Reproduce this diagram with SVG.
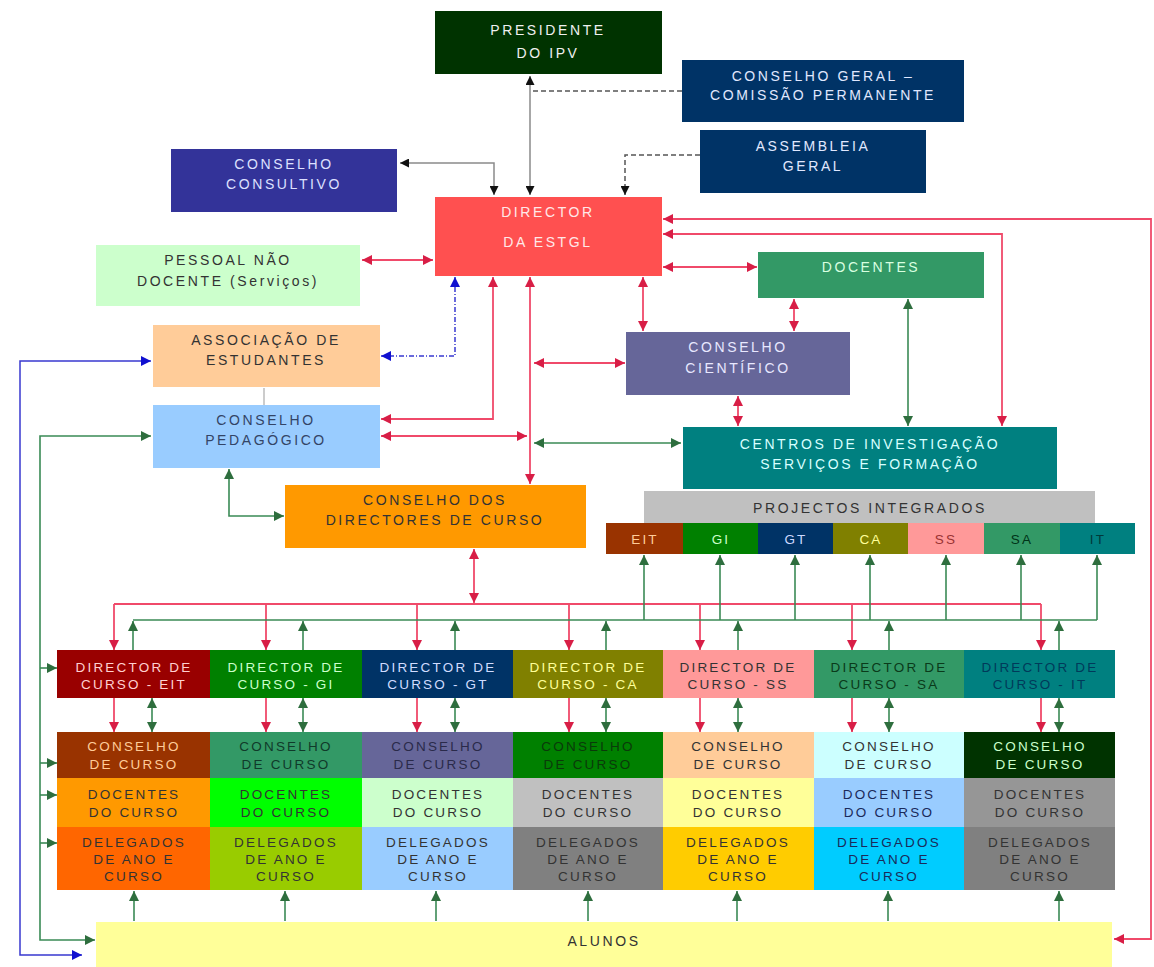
<svg xmlns="http://www.w3.org/2000/svg" width="1154" height="967" viewBox="0 0 1154 967">
<style>
text{font-family:"Liberation Sans","DejaVu Sans",Arial,sans-serif;font-size:14px;letter-spacing:2.6px;text-anchor:middle}
.sm{font-size:13.5px;letter-spacing:2.2px}
.lt{fill:#f0f0f0}
.dk{fill:#333333}
.k{fill:none;stroke:#8a8a8a;stroke-width:1.5}
.kd{fill:none;stroke:#555555;stroke-width:1.5;stroke-dasharray:5 3}
.r{fill:none;stroke:#f04a6a;stroke-width:1.8}
.g{fill:none;stroke:#3a8a55;stroke-width:1.6}
.b{fill:none;stroke:#3838d0;stroke-width:1.5}
.bd{fill:none;stroke:#3838d0;stroke-width:1.5;stroke-dasharray:5 2 1 2}
.gy{fill:none;stroke:#999999;stroke-width:1}
</style>
<defs>
<marker id="ak" viewBox="0 0 10 10" refX="10" refY="5" markerWidth="9" markerHeight="9" markerUnits="userSpaceOnUse" orient="auto-start-reverse"><path d="M0,0L10,5L0,10z" fill="#111111"/></marker>
<marker id="ar" viewBox="0 0 10 10" refX="10" refY="5" markerWidth="10" markerHeight="10" markerUnits="userSpaceOnUse" orient="auto-start-reverse"><path d="M0,0L10,5L0,10z" fill="#d81e46"/></marker>
<marker id="ag" viewBox="0 0 10 10" refX="10" refY="5" markerWidth="10" markerHeight="10" markerUnits="userSpaceOnUse" orient="auto-start-reverse"><path d="M0,0L10,5L0,10z" fill="#2e6e3e"/></marker>
<marker id="ab" viewBox="0 0 10 10" refX="10" refY="5" markerWidth="10" markerHeight="10" markerUnits="userSpaceOnUse" orient="auto-start-reverse"><path d="M0,0L10,5L0,10z" fill="#1010d0"/></marker>
</defs>
<rect width="1154" height="967" fill="#ffffff"/>

<g id="connectors">
<path class="k" d="M530,76V195" marker-start="url(#ak)" marker-end="url(#ak)"/>
<path class="kd" d="M682,91H530"/>
<path class="k" d="M400,163H494V195" marker-start="url(#ak)" marker-end="url(#ak)"/>
<path class="kd" d="M700,155H625V195" marker-end="url(#ak)"/>

<path class="r" d="M362,260H433" marker-start="url(#ar)" marker-end="url(#ar)"/>
<path class="r" d="M663,267H757" marker-start="url(#ar)" marker-end="url(#ar)"/>
<path class="r" d="M663,219H1151V939H1114" marker-start="url(#ar)" marker-end="url(#ar)"/>
<path class="r" d="M663,234H1002V426" marker-start="url(#ar)" marker-end="url(#ar)"/>
<path class="r" d="M643,277V331" marker-start="url(#ar)" marker-end="url(#ar)"/>
<path class="r" d="M794,299V331" marker-start="url(#ar)" marker-end="url(#ar)"/>
<path class="r" d="M738,396V426" marker-start="url(#ar)" marker-end="url(#ar)"/>
<path class="r" d="M530,277V484" marker-start="url(#ar)" marker-end="url(#ar)"/>
<path class="r" d="M493,277V419H381" marker-start="url(#ar)" marker-end="url(#ar)"/>
<path class="r" d="M381,436H527" marker-start="url(#ar)" marker-end="url(#ar)"/>
<path class="r" d="M534,363H625" marker-start="url(#ar)" marker-end="url(#ar)"/>
<path class="r" d="M474,549V603" marker-start="url(#ar)" marker-end="url(#ar)"/>
<path class="r" d="M114,604H1041"/>
<path class="r" d="M114,604V650" marker-end="url(#ar)"/>
<path class="r" d="M266,604V650" marker-end="url(#ar)"/>
<path class="r" d="M417,604V650" marker-end="url(#ar)"/>
<path class="r" d="M569,604V650" marker-end="url(#ar)"/>
<path class="r" d="M700,604V650" marker-end="url(#ar)"/>
<path class="r" d="M852,604V650" marker-end="url(#ar)"/>
<path class="r" d="M1041,604V650" marker-end="url(#ar)"/>
<path class="r" d="M114,698V732" marker-end="url(#ar)"/>
<path class="r" d="M266,698V732" marker-end="url(#ar)"/>
<path class="r" d="M417,698V732" marker-end="url(#ar)"/>
<path class="r" d="M569,698V732" marker-end="url(#ar)"/>
<path class="r" d="M700,698V732" marker-end="url(#ar)"/>
<path class="r" d="M852,698V732" marker-end="url(#ar)"/>
<path class="r" d="M1041,698V732" marker-end="url(#ar)"/>

<path class="bd" d="M455,277V356H381" marker-start="url(#ab)" marker-end="url(#ab)"/>
<path class="b" d="M151,361H20V955H82" marker-start="url(#ab)" marker-end="url(#ab)"/>

<path class="g" d="M534,443H681" marker-start="url(#ag)" marker-end="url(#ag)"/>
<path class="g" d="M908,299V426" marker-start="url(#ag)" marker-end="url(#ag)"/>
<path class="g" d="M229,469V516H284" marker-start="url(#ag)" marker-end="url(#ag)"/>
<path class="g" d="M151,436H40V940H95" marker-start="url(#ag)" marker-end="url(#ag)"/>
<path class="g" d="M40,668H57" marker-end="url(#ag)"/>
<path class="g" d="M40,763H57" marker-end="url(#ag)"/>
<path class="g" d="M40,795H57" marker-end="url(#ag)"/>
<path class="g" d="M40,843H57" marker-end="url(#ag)"/>
<path class="g" d="M133,620H1097"/>
<path class="g" d="M133,650V621" marker-end="url(#ag)"/>
<path class="g" d="M303,650V621" marker-end="url(#ag)"/>
<path class="g" d="M455,650V621" marker-end="url(#ag)"/>
<path class="g" d="M606,650V621" marker-end="url(#ag)"/>
<path class="g" d="M738,650V621" marker-end="url(#ag)"/>
<path class="g" d="M889,650V621" marker-end="url(#ag)"/>
<path class="g" d="M1059,650V621" marker-end="url(#ag)"/>
<path class="g" d="M644,620V555" marker-end="url(#ag)"/>
<path class="g" d="M720,620V555" marker-end="url(#ag)"/>
<path class="g" d="M795,620V555" marker-end="url(#ag)"/>
<path class="g" d="M870,620V555" marker-end="url(#ag)"/>
<path class="g" d="M946,620V555" marker-end="url(#ag)"/>
<path class="g" d="M1021,620V555" marker-end="url(#ag)"/>
<path class="g" d="M1097,620V555" marker-end="url(#ag)"/>
<path class="g" d="M152,698V732" marker-start="url(#ag)" marker-end="url(#ag)"/>
<path class="g" d="M303,698V732" marker-start="url(#ag)" marker-end="url(#ag)"/>
<path class="g" d="M455,698V732" marker-start="url(#ag)" marker-end="url(#ag)"/>
<path class="g" d="M606,698V732" marker-start="url(#ag)" marker-end="url(#ag)"/>
<path class="g" d="M738,698V732" marker-start="url(#ag)" marker-end="url(#ag)"/>
<path class="g" d="M889,698V732" marker-start="url(#ag)" marker-end="url(#ag)"/>
<path class="g" d="M1059,698V732" marker-start="url(#ag)" marker-end="url(#ag)"/>
<path class="g" d="M134,921V891" marker-end="url(#ag)"/>
<path class="g" d="M285,921V891" marker-end="url(#ag)"/>
<path class="g" d="M436,921V891" marker-end="url(#ag)"/>
<path class="g" d="M588,921V891" marker-end="url(#ag)"/>
<path class="g" d="M737,921V891" marker-end="url(#ag)"/>
<path class="g" d="M888,921V891" marker-end="url(#ag)"/>
<path class="g" d="M1059,921V891" marker-end="url(#ag)"/>
<path class="gy" d="M264,388V405"/>
</g>

<g id="presidente"><rect x="435" y="11" width="227" height="63" fill="#003300"/><text class="lt" x="548" y="35">PRESIDENTE</text><text class="lt" x="548" y="58">DO IPV</text></g>
<g id="conselho-geral"><rect x="682" y="60" width="282" height="62" fill="#003366"/><text x="823" y="81" fill="#e0e8ff">CONSELHO GERAL –</text><text x="823" y="100" fill="#e0e8ff">COMISSÃO PERMANENTE</text></g>
<g id="assembleia"><rect x="700" y="130" width="226" height="63" fill="#003366"/><text x="813" y="151" fill="#e0e8ff">ASSEMBLEIA</text><text x="813" y="171" fill="#e0e8ff">GERAL</text></g>
<g id="consultivo"><rect x="171" y="149" width="226" height="63" fill="#333399"/><text x="284" y="169" fill="#dde0ff">CONSELHO</text><text x="284" y="189" fill="#dde0ff">CONSULTIVO</text></g>
<g id="director-estgl"><rect x="435" y="197" width="227" height="79" fill="#ff5050"/><text x="548" y="217" fill="#ffe8e8">DIRECTOR</text><text x="548" y="247" fill="#ffe8e8">DA ESTGL</text></g>
<g id="pessoal"><rect x="96" y="245" width="264" height="61" fill="#ccffcc"/><text class="dk" x="228" y="265">PESSOAL NÃO</text><text class="dk" x="228" y="286">DOCENTE (Serviços)</text></g>
<g id="docentes"><rect x="758" y="252" width="226" height="46" fill="#339966"/><text x="871" y="272" fill="#d8ffe0">DOCENTES</text></g>
<g id="associacao"><rect x="153" y="325" width="227" height="62" fill="#ffcc99"/><text class="dk" x="266" y="345">ASSOCIAÇÃO DE</text><text class="dk" x="266" y="365">ESTUDANTES</text></g>
<g id="cientifico"><rect x="626" y="332" width="224" height="63" fill="#666699"/><text x="738" y="352" fill="#e8e8ff">CONSELHO</text><text x="738" y="373" fill="#e8e8ff">CIENTÍFICO</text></g>
<g id="pedagogico"><rect x="153" y="405" width="227" height="63" fill="#99ccff"/><text x="266" y="425" fill="#334466">CONSELHO</text><text x="266" y="445" fill="#334466">PEDAGÓGICO</text></g>
<g id="centros"><rect x="683" y="427" width="374" height="62" fill="#008080"/><text x="870" y="449" fill="#d8ffff">CENTROS DE INVESTIGAÇÃO</text><text x="870" y="469" fill="#d8ffff">SERVIÇOS E FORMAÇÃO</text></g>
<g id="conselho-directores"><rect x="285" y="485" width="301" height="63" fill="#ff9900"/><text class="dk" x="435" y="505">CONSELHO DOS</text><text class="dk" x="435" y="525">DIRECTORES DE CURSO</text></g>
<g id="projectos"><rect x="644" y="491" width="451" height="32" fill="#c0c0c0"/><text class="dk" x="870" y="513">PROJECTOS INTEGRADOS</text></g>

<g id="pi-eit"><rect x="606" y="523" width="77" height="31" fill="#993300"/><text class="sm" x="645" y="544" fill="#ffcc99">EIT</text></g>
<g id="pi-gi"><rect x="683" y="523" width="75" height="31" fill="#008000"/><text class="sm" x="721" y="544" fill="#ccffcc">GI</text></g>
<g id="pi-gt"><rect x="758" y="523" width="75" height="31" fill="#003366"/><text class="sm" x="796" y="544" fill="#ccd8ff">GT</text></g>
<g id="pi-ca"><rect x="833" y="523" width="75" height="31" fill="#808000"/><text class="sm" x="871" y="544" fill="#ffff99">CA</text></g>
<g id="pi-ss"><rect x="908" y="523" width="76" height="31" fill="#ff9999"/><text class="sm" x="946" y="544" fill="#993333">SS</text></g>
<g id="pi-sa"><rect x="984" y="523" width="76" height="31" fill="#339966"/><text class="sm" x="1022" y="544" fill="#003318">SA</text></g>
<g id="pi-it"><rect x="1060" y="523" width="75" height="31" fill="#008080"/><text class="sm" x="1098" y="544" fill="#003a3a">IT</text></g>

<g id="dir-eit"><rect x="57" y="650" width="153" height="48" fill="#990000"/><text class="sm" x="134" y="672" fill="#ffd0d0">DIRECTOR DE</text><text class="sm" x="134" y="689" fill="#ffd0d0">CURSO - EIT</text></g>
<g id="dir-gi"><rect x="210" y="650" width="152" height="48" fill="#008000"/><text class="sm" x="286" y="672" fill="#ccffcc">DIRECTOR DE</text><text class="sm" x="286" y="689" fill="#ccffcc">CURSO - GI</text></g>
<g id="dir-gt"><rect x="362" y="650" width="151" height="48" fill="#003366"/><text class="sm" x="438" y="672" fill="#d0dcff">DIRECTOR DE</text><text class="sm" x="438" y="689" fill="#d0dcff">CURSO - GT</text></g>
<g id="dir-ca"><rect x="513" y="650" width="150" height="48" fill="#808000"/><text class="sm" x="588" y="672" fill="#ffff99">DIRECTOR DE</text><text class="sm" x="588" y="689" fill="#ffff99">CURSO - CA</text></g>
<g id="dir-ss"><rect x="663" y="650" width="151" height="48" fill="#ff9999"/><text class="sm dk" x="738" y="672">DIRECTOR DE</text><text class="sm dk" x="738" y="689">CURSO - SS</text></g>
<g id="dir-sa"><rect x="814" y="650" width="150" height="48" fill="#339966"/><text class="sm" x="889" y="672" fill="#0a3a1a">DIRECTOR DE</text><text class="sm" x="889" y="689" fill="#0a3a1a">CURSO - SA</text></g>
<g id="dir-it"><rect x="964" y="650" width="151" height="48" fill="#008080"/><text class="sm" x="1040" y="672" fill="#003a5a">DIRECTOR DE</text><text class="sm" x="1040" y="689" fill="#003a5a">CURSO - IT</text></g>

<g id="cc-eit"><rect x="57" y="732" width="153" height="46" fill="#993300"/><text class="sm" x="134" y="751" fill="#ffcc99">CONSELHO</text><text class="sm" x="134" y="769" fill="#ffcc99">DE CURSO</text></g>
<g id="cc-gi"><rect x="210" y="732" width="152" height="46" fill="#339966"/><text class="sm" x="286" y="751" fill="#103a2a">CONSELHO</text><text class="sm" x="286" y="769" fill="#103a2a">DE CURSO</text></g>
<g id="cc-gt"><rect x="362" y="732" width="151" height="46" fill="#666699"/><text class="sm" x="438" y="751" fill="#2a2a4a">CONSELHO</text><text class="sm" x="438" y="769" fill="#2a2a4a">DE CURSO</text></g>
<g id="cc-ca"><rect x="513" y="732" width="150" height="46" fill="#008000"/><text class="sm" x="588" y="751" fill="#0a3a0a">CONSELHO</text><text class="sm" x="588" y="769" fill="#0a3a0a">DE CURSO</text></g>
<g id="cc-ss"><rect x="663" y="732" width="151" height="46" fill="#ffcc99"/><text class="sm dk" x="738" y="751">CONSELHO</text><text class="sm dk" x="738" y="769">DE CURSO</text></g>
<g id="cc-sa"><rect x="814" y="732" width="150" height="46" fill="#ccffff"/><text class="sm dk" x="889" y="751">CONSELHO</text><text class="sm dk" x="889" y="769">DE CURSO</text></g>
<g id="cc-it"><rect x="964" y="732" width="151" height="46" fill="#003300"/><text class="sm" x="1040" y="751" fill="#ccffcc">CONSELHO</text><text class="sm" x="1040" y="769" fill="#ccffcc">DE CURSO</text></g>

<g id="dc-eit"><rect x="57" y="778" width="153" height="49" fill="#ff9900"/><text class="sm dk" x="134" y="799">DOCENTES</text><text class="sm dk" x="134" y="817">DO CURSO</text></g>
<g id="dc-gi"><rect x="210" y="778" width="152" height="49" fill="#00ff00"/><text class="sm dk" x="286" y="799">DOCENTES</text><text class="sm dk" x="286" y="817">DO CURSO</text></g>
<g id="dc-gt"><rect x="362" y="778" width="151" height="49" fill="#ccffcc"/><text class="sm dk" x="438" y="799">DOCENTES</text><text class="sm dk" x="438" y="817">DO CURSO</text></g>
<g id="dc-ca"><rect x="513" y="778" width="150" height="49" fill="#c0c0c0"/><text class="sm dk" x="588" y="799">DOCENTES</text><text class="sm dk" x="588" y="817">DO CURSO</text></g>
<g id="dc-ss"><rect x="663" y="778" width="151" height="49" fill="#ffff99"/><text class="sm dk" x="738" y="799">DOCENTES</text><text class="sm dk" x="738" y="817">DO CURSO</text></g>
<g id="dc-sa"><rect x="814" y="778" width="150" height="49" fill="#99ccff"/><text class="sm" x="889" y="799" fill="#1a2a5a">DOCENTES</text><text class="sm" x="889" y="817" fill="#1a2a5a">DO CURSO</text></g>
<g id="dc-it"><rect x="964" y="778" width="151" height="49" fill="#969696"/><text class="sm dk" x="1040" y="799">DOCENTES</text><text class="sm dk" x="1040" y="817">DO CURSO</text></g>

<g id="dl-eit"><rect x="57" y="827" width="153" height="63" fill="#ff6600"/><text class="sm dk" x="134" y="847">DELEGADOS</text><text class="sm dk" x="134" y="864">DE ANO E</text><text class="sm dk" x="134" y="881">CURSO</text></g>
<g id="dl-gi"><rect x="210" y="827" width="152" height="63" fill="#99cc00"/><text class="sm dk" x="286" y="847">DELEGADOS</text><text class="sm dk" x="286" y="864">DE ANO E</text><text class="sm dk" x="286" y="881">CURSO</text></g>
<g id="dl-gt"><rect x="362" y="827" width="151" height="63" fill="#99ccff"/><text class="sm dk" x="438" y="847">DELEGADOS</text><text class="sm dk" x="438" y="864">DE ANO E</text><text class="sm dk" x="438" y="881">CURSO</text></g>
<g id="dl-ca"><rect x="513" y="827" width="150" height="63" fill="#808080"/><text class="sm dk" x="588" y="847">DELEGADOS</text><text class="sm dk" x="588" y="864">DE ANO E</text><text class="sm dk" x="588" y="881">CURSO</text></g>
<g id="dl-ss"><rect x="663" y="827" width="151" height="63" fill="#ffcc00"/><text class="sm dk" x="738" y="847">DELEGADOS</text><text class="sm dk" x="738" y="864">DE ANO E</text><text class="sm dk" x="738" y="881">CURSO</text></g>
<g id="dl-sa"><rect x="814" y="827" width="150" height="63" fill="#00ccff"/><text class="sm" x="889" y="847" fill="#1a2a5a">DELEGADOS</text><text class="sm" x="889" y="864" fill="#1a2a5a">DE ANO E</text><text class="sm" x="889" y="881" fill="#1a2a5a">CURSO</text></g>
<g id="dl-it"><rect x="964" y="827" width="151" height="63" fill="#808080"/><text class="sm dk" x="1040" y="847">DELEGADOS</text><text class="sm dk" x="1040" y="864">DE ANO E</text><text class="sm dk" x="1040" y="881">CURSO</text></g>

<g id="alunos"><rect x="96" y="922" width="1016" height="45" fill="#ffff99"/><text class="dk" x="604" y="946">ALUNOS</text></g>
</svg>
